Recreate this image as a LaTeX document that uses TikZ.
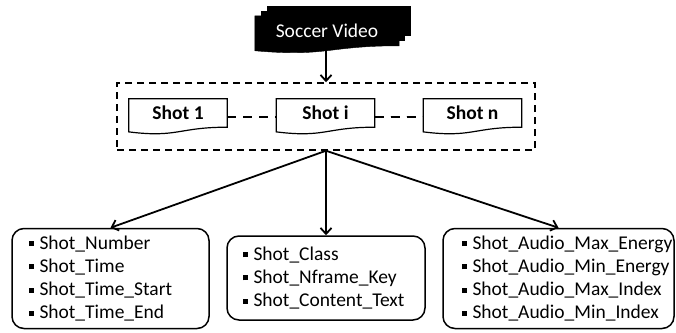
\documentclass[tikz,border=0pt]{standalone}
\usepackage{fontspec}
\setmainfont{Carlito}
\usetikzlibrary{arrows.meta,calc,backgrounds}

% outline of a flowchart "document" around the upper part of a node
\newcommand{\drawdoc}[2][]{%
  \draw[#1] (#2.north west) -- (#2.north east) -- (#2.south east)
    .. controls (#2.south) and ($(#2.north)!1.38!(#2.south)$) ..
    ($(#2.north west)!1.165!(#2.south west)$) -- cycle;}
% one bulleted attribute line
\newcommand{\attr}[2][0pt]{\mbox{\hspace{#1}\rule[0.32ex]{5pt}{5pt}\hspace{5.5pt}#2}}

\begin{document}
\begin{tikzpicture}[x=1pt, y=1pt,
    font=\fontsize{19.5}{23.3}\selectfont,
    shotdoc/.style={minimum width=98pt, minimum height=28pt, inner sep=0pt,
                    font=\fontsize{19.5}{23.3}\selectfont\bfseries},
    videodoc/.style={minimum width=144pt, minimum height=29.6pt, inner sep=0pt,
                     text=white},
    attrbox/.style={draw, line width=1.5pt, rounded corners=12pt, align=left,
                    inner ysep=0pt},
    arrow/.style={line width=1.8pt, -{Straight Barb[length=6pt, width=11pt]}}]
    \useasboundingbox (0,0) rectangle (676,-332);

    % source video (stacked documents)
    \node[videodoc] (video) at (327,-30.8) {Soccer Video};
    \begin{scope}[on background layer]
        \foreach \k in {2,1}
            \fill ([shift={(\k*6, \k*5)}]video.north west)
                rectangle ([shift={(\k*6, \k*5)}]video.south east);
        \drawdoc[fill=black, draw=black]{video}
    \end{scope}

    % shots
    \node[draw, dashed, line width=1.5pt, dash pattern=on 7pt off 5pt,
          minimum width=418pt, minimum height=67pt] (shots) at (326,-116.5) {};
    \node[shotdoc] (s1) at (178,-113)   {Shot 1};
    \node[shotdoc] (si) at (325.5,-113) {Shot i};
    \node[shotdoc] (sn) at (472.5,-113) {Shot n};
    \foreach \s in {s1, si, sn}
        \drawdoc[line width=1.2pt]{\s}
    \foreach \a/\b in {s1/si, si/sn}
        \draw[line width=1.5pt, dash pattern=on 9pt off 7pt]
            ([yshift=-4pt]\a.east) -- ([yshift=-4pt]\b.west);

    % attribute groups
    \node[attrbox, text width=163pt, inner xsep=17pt, minimum height=100pt]
        (timebox) at (110.5,-278.5)
        {\attr{Shot\_Number}\\ \attr{Shot\_Time}\\ \attr{Shot\_Time\_Start}\\ \attr{Shot\_Time\_End}};
    \node[attrbox, text width=166pt, inner xsep=16pt, minimum height=84pt]
        (contentbox) at (326,-278)
        {\attr{Shot\_Class}\\ \attr{Shot\_Nframe\_Key}\\ \attr{Shot\_Content\_Text}};
    \node[attrbox, text width=213pt, inner xsep=9pt, minimum height=100pt]
        (audiobox) at (558.5,-278.5)
        {\attr[10pt]{Shot\_Audio\_Max\_Energy}\\ \attr[10pt]{Shot\_Audio\_Min\_Energy}\\
         \attr[10pt]{Shot\_Audio\_Max\_Index}\\ \attr[10pt]{Shot\_Audio\_Min\_Index}};

    \draw[arrow] (shots.north |- video.south) -- (shots.north);
    \foreach \b in {timebox, contentbox, audiobox}
        \draw[arrow] (shots.south) -- (\b.north);
\end{tikzpicture}
\end{document}
